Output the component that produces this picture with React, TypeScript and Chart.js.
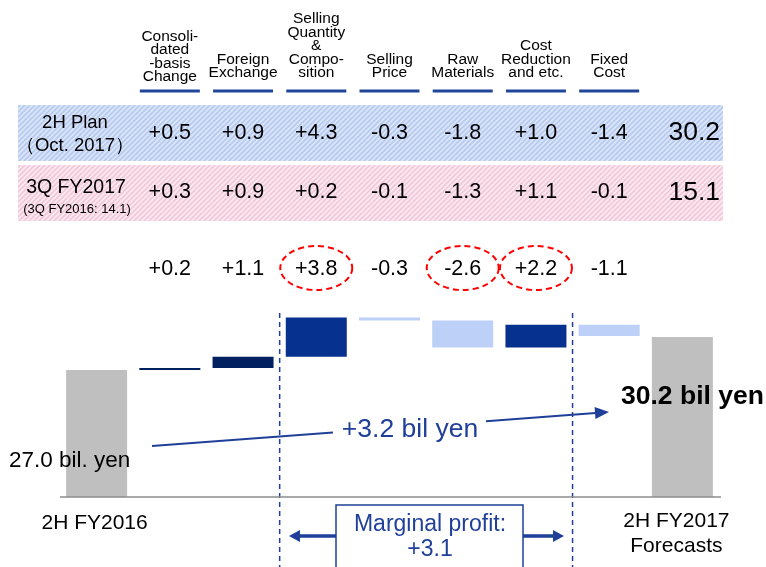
import React, { useEffect, useRef } from "react";
import { Chart, registerables } from "chart.js";

Chart.register(...registerables);

// ---------- data ----------
const categories = [
  "2H FY2016",
  "Consolidated-basis Change",
  "Foreign Exchange",
  "Selling Quantity & Composition",
  "Selling Price",
  "Raw Materials",
  "Cost Reduction and etc.",
  "Fixed Cost",
  "2H FY2017 Forecasts",
];
const headerLines = [
  ["Consoli-", "dated", "-basis", "Change"],
  ["Foreign", "Exchange"],
  ["Selling", "Quantity", "&", "Compo-", "sition"],
  ["Selling", "Price"],
  ["Raw", "Materials"],
  ["Cost", "Reduction", "and etc."],
  ["Fixed", "Cost"],
];
const startValue = 27.0; // 2H FY2016
const endValue = 30.2; // 2H FY2017 forecasts
const changes = [0.2, 1.1, 3.8, -0.3, -2.6, 2.2, -1.1];
const planValues = [0.5, 0.9, 4.3, -0.3, -1.8, 1.0, -1.4];
const planTotal = 30.2;
const q3Values = [0.3, 0.9, 0.2, -0.1, -1.3, 1.1, -0.1];
const q3Total = 15.1;
const q3PrevTotal = 14.1;
const highlighted = [2, 4, 5];
const totalChange = 3.2;
const marginalProfit = 3.1;
const changeColors = ["#002060", "#002060", "#06318f", "#bdd0f8", "#bdd0f8", "#06318f", "#bdd0f8"];
const totalColor = "#bfbfbf";

const fmt = (v: number) => (v > 0 ? "+" + v.toFixed(1) : v.toFixed(1));

const FONT = "'Liberation Sans', Arial, sans-serif";
const BLUE = "#1f3f99";

function makePattern(ctx: CanvasRenderingContext2D, bg: string, stripe: string) {
  const c = document.createElement("canvas");
  c.width = 5;
  c.height = 5;
  const g = c.getContext("2d")!;
  g.fillStyle = bg;
  g.fillRect(0, 0, 5, 5);
  g.strokeStyle = stripe;
  g.lineWidth = 1.6;
  g.beginPath();
  g.moveTo(-1, 6);
  g.lineTo(6, -1);
  g.moveTo(-1, 1);
  g.lineTo(1, -1);
  g.moveTo(4, 6);
  g.lineTo(6, 4);
  g.stroke();
  return ctx.createPattern(c, "repeat")!;
}

function arrowHead(ctx: CanvasRenderingContext2D, x1: number, y1: number, x2: number, y2: number, len: number, half: number, color: string) {
  const a = Math.atan2(y2 - y1, x2 - x1);
  ctx.save();
  ctx.fillStyle = color;
  ctx.translate(x2, y2);
  ctx.rotate(a);
  ctx.beginPath();
  ctx.moveTo(0, 0);
  ctx.lineTo(-len, -half);
  ctx.lineTo(-len, half);
  ctx.closePath();
  ctx.fill();
  ctx.restore();
}

const annotations = {
  id: "annotations",
  afterDraw(chart: any) {
    const ctx: CanvasRenderingContext2D = chart.ctx;
    const xs = chart.scales.x;
    const area = chart.chartArea;
    const cx = (i: number) => xs.getPixelForValue(i);
    const half = (cx(1) - cx(0)) / 2;
    ctx.save();

    // headers
    const headerBottom = [77, 73, 73, 73, 73, 73, 73];
    ctx.fillStyle = "#000";
    ctx.textAlign = "center";
    ctx.textBaseline = "middle";
    ctx.font = `15.5px ${FONT}`;
    headerLines.forEach((lines, k) => {
      const x = cx(k + 1);
      lines.forEach((t, j) => {
        const y = headerBottom[k] - (lines.length - 1 - j) * 13.5;
        ctx.fillText(t, x, y);
      });
      ctx.strokeStyle = "#1f4699";
      ctx.lineWidth = 3;
      ctx.beginPath();
      ctx.moveTo(x - 30, 91);
      ctx.lineTo(x + 30, 91);
      ctx.stroke();
    });

    // row backgrounds
    ctx.fillStyle = makePattern(ctx, "#dbe5f8", "#b6c9ef");
    ctx.fillRect(18, 105, 705, 56);
    ctx.fillStyle = makePattern(ctx, "#fbe9f1", "#f1c7d9");
    ctx.fillRect(18, 165, 705, 56);

    // row labels
    ctx.fillStyle = "#000";
    ctx.font = `18.5px ${FONT}`;
    ctx.fillText("2H Plan", 75, 123);
    ctx.fillText("（Oct. 2017）", 75, 146);
    ctx.font = `19.5px ${FONT}`;
    ctx.fillText("3Q FY2017", 76, 188);
    ctx.font = `13px ${FONT}`;
    ctx.fillText(`(3Q FY2016: ${q3PrevTotal.toFixed(1)})`, 77, 209);

    // row values
    ctx.font = `21.5px ${FONT}`;
    planValues.forEach((v, k) => ctx.fillText(fmt(v), cx(k + 1), 133));
    q3Values.forEach((v, k) => ctx.fillText(fmt(v), cx(k + 1), 192));
    ctx.font = `26.5px ${FONT}`;
    ctx.textAlign = "right";
    ctx.fillText(planTotal.toFixed(1), 720, 133);
    ctx.fillText(q3Total.toFixed(1), 720, 193);

    // change values
    ctx.textAlign = "center";
    ctx.font = `21.5px ${FONT}`;
    changes.forEach((v, k) => ctx.fillText(fmt(v), cx(k + 1), 269));
    ctx.strokeStyle = "#ff0000";
    ctx.lineWidth = 2;
    ctx.setLineDash([6, 4]);
    highlighted.forEach((k) => {
      ctx.beginPath();
      ctx.ellipse(cx(k + 1), 268, 36, 22, 0, 0, Math.PI * 2);
      ctx.stroke();
    });

    // dashed verticals at marginal-profit block boundaries
    ctx.strokeStyle = BLUE;
    ctx.lineWidth = 1.5;
    ctx.setLineDash([5, 4]);
    [cx(3) - half, cx(6) + half].forEach((x) => {
      ctx.beginPath();
      ctx.moveTo(x, 313);
      ctx.lineTo(x, 567);
      ctx.stroke();
    });
    ctx.setLineDash([]);

    // baseline
    ctx.strokeStyle = "#8c8c8c";
    ctx.lineWidth = 1.5;
    ctx.beginPath();
    ctx.moveTo(area.left, area.bottom);
    ctx.lineTo(area.right + 2, area.bottom);
    ctx.stroke();

    // +3.2 arrow
    const x1 = 152, y1 = 446, x2 = 609, y2 = 412;
    const yAt = (x: number) => y1 + ((y2 - y1) * (x - x1)) / (x2 - x1);
    ctx.strokeStyle = BLUE;
    ctx.lineWidth = 2;
    ctx.beginPath();
    ctx.moveTo(x1, y1);
    ctx.lineTo(333, yAt(333));
    ctx.moveTo(486, yAt(486));
    ctx.lineTo(x2 - 10, yAt(x2 - 10));
    ctx.stroke();
    arrowHead(ctx, x1, y1, x2, y2, 14, 6, BLUE);
    ctx.fillStyle = BLUE;
    ctx.font = `26.5px ${FONT}`;
    ctx.fillText(`+${totalChange.toFixed(1)} bil yen`, 410, 430);

    // value labels
    ctx.fillStyle = "#000";
    ctx.font = `bold 26.5px ${FONT}`;
    ctx.textAlign = "left";
    ctx.fillText(`${endValue.toFixed(1)} bil yen`, 621, 397);
    ctx.font = `22.5px ${FONT}`;
    ctx.fillText(`${startValue.toFixed(1)} bil. yen`, 9, 461);

    // category labels
    ctx.textAlign = "center";
    ctx.font = `21px ${FONT}`;
    ctx.fillText("2H FY2016", cx(0) - 2, 523);
    ctx.fillText("2H FY2017", cx(8) - 6, 521);
    ctx.fillText("Forecasts", cx(8) - 6, 546);

    // marginal profit box
    ctx.strokeStyle = BLUE;
    ctx.lineWidth = 1.5;
    ctx.strokeRect(336, 505, 187, 80);
    ctx.fillStyle = BLUE;
    ctx.font = `23px ${FONT}`;
    ctx.fillText("Marginal profit:", 430, 525);
    ctx.fillText(`+${marginalProfit.toFixed(1)}`, 430, 550);
    ctx.lineWidth = 3.5;
    ctx.beginPath();
    ctx.moveTo(336, 536);
    ctx.lineTo(298, 536);
    ctx.moveTo(523, 536);
    ctx.lineTo(555, 536);
    ctx.stroke();
    arrowHead(ctx, 336, 536, 289, 536, 11, 6, BLUE);
    arrowHead(ctx, 523, 536, 564, 536, 11, 6, BLUE);

    ctx.restore();
  },
};

export default function App() {
  const ref = useRef<HTMLCanvasElement | null>(null);
  useEffect(() => {
    if (!ref.current) return;
    const floating: [number, number][] = [];
    const colors: string[] = [];
    floating.push([0, startValue]);
    colors.push(totalColor);
    let cum = startValue;
    changes.forEach((d, i) => {
      floating.push([cum, cum + d]);
      colors.push(changeColors[i]);
      cum += d;
    });
    floating.push([0, endValue]);
    colors.push(totalColor);

    const chart = new Chart(ref.current, {
      type: "bar",
      data: {
        labels: categories,
        datasets: [
          {
            data: floating as any,
            backgroundColor: colors,
            borderWidth: 0,
            barPercentage: 0.833,
            categoryPercentage: 1,
          },
        ],
      },
      options: {
        animation: false,
        responsive: false,
        devicePixelRatio: 1,
        layout: { padding: { left: 60, right: 47, top: 236, bottom: 70 } },
        scales: {
          x: { display: false },
          y: { display: false, min: 14.7, max: 40 },
        },
        plugins: { legend: { display: false }, tooltip: { enabled: false } },
      },
      plugins: [annotations],
    });
    return () => chart.destroy();
  }, []);
  return (
    <div style={{ position: "fixed", left: 0, top: 0, width: 766, height: 567, background: "#fff" }}>
      <canvas ref={ref} width={766} height={567} style={{ width: 766, height: 567, display: "block" }} />
    </div>
  );
}
